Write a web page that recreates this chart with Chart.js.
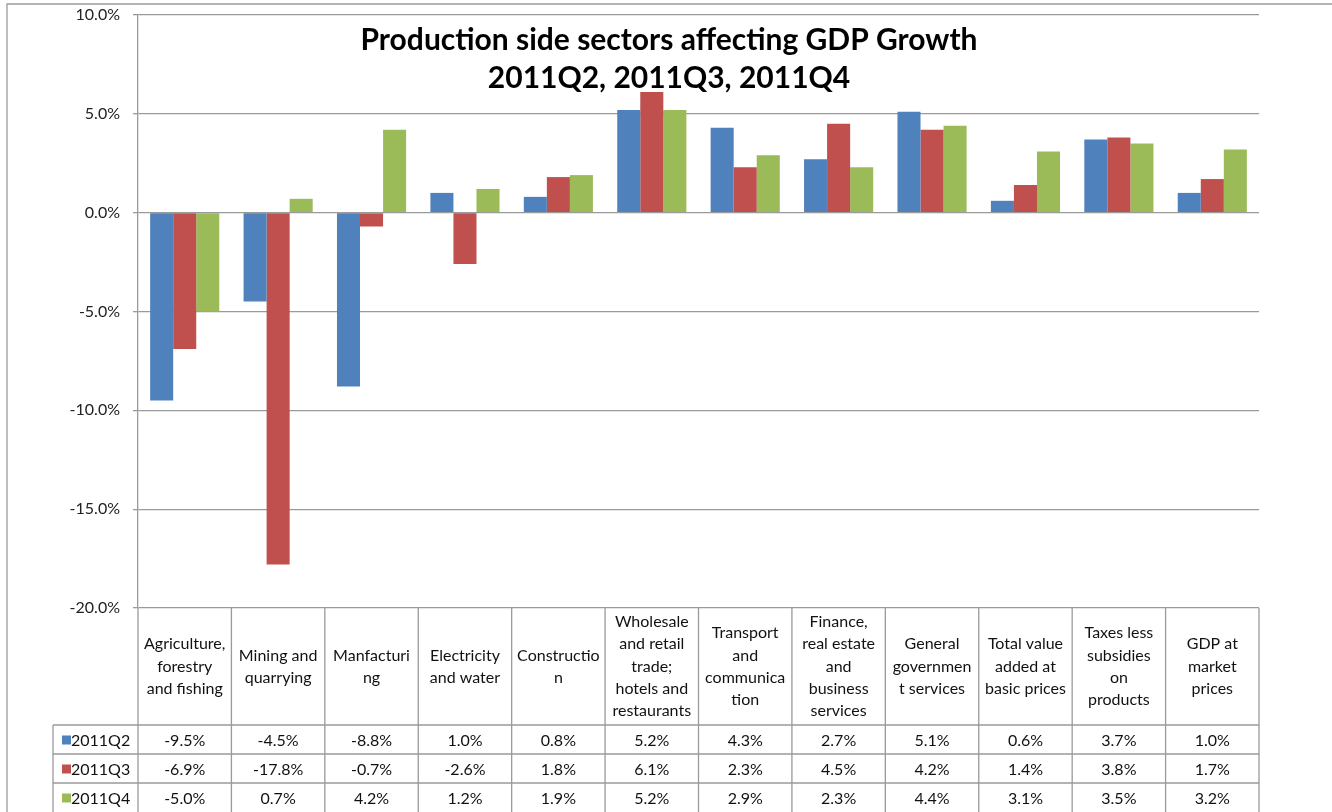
<!DOCTYPE html>
<html>
<head>
<meta charset="utf-8">
<script src="https://cdn.jsdelivr.net/npm/chart.js@4.4.0/dist/chart.umd.min.js"></script>
<style>
  html, body { margin: 0; padding: 0; background: #fff; }
  #wrap { width: 1332px; height: 812px; }
</style>
</head>
<body>
<div id="wrap"><canvas id="gdp-chart"></canvas></div>
<script>
const sectors = [
  ["Agriculture,", "forestry", "and fishing"],
  ["Mining and", "quarrying"],
  ["Manfacturi", "ng"],
  ["Electricity", "and water"],
  ["Constructio", "n"],
  ["Wholesale", "and retail", "trade;", "hotels and", "restaurants"],
  ["Transport", "and", "communica", "tion"],
  ["Finance,", "real estate", "and", "business", "services"],
  ["General", "governmen", "t services"],
  ["Total value", "added at", "basic prices"],
  ["Taxes less", "subsidies", "on", "products"],
  ["GDP at", "market", "prices"],
];
const seriesNames = ["2011Q2", "2011Q3", "2011Q4"];
const q2 = [-9.5, -4.5, -8.8, 1.0, 0.8, 5.2, 4.3, 2.7, 5.1, 0.6, 3.7, 1.0];
const q3 = [-6.9, -17.8, -0.7, -2.6, 1.8, 6.1, 2.3, 4.5, 4.2, 1.4, 3.8, 1.7];
const q4 = [-5.0, 0.7, 4.2, 1.2, 1.9, 5.2, 2.9, 2.3, 4.4, 3.1, 3.5, 3.2];
const titleLines = ["Production side sectors affecting GDP Growth", "2011Q2, 2011Q3, 2011Q4"];

const colors = ["#4f81bd", "#c0504d", "#9bbb59"];
const lineColor = "#9a9a9a";
const fontFamily = "Lato, 'Open Sans', sans-serif";
const fmt = (v) => v.toFixed(1) + "%";

const tablePlugin = {
  id: "excelTable",
  afterDraw(chart) {
    const ctx = chart.ctx;
    const x = chart.scales.x;
    const y = chart.scales.y;
    const left = chart.chartArea.left;
    const right = chart.chartArea.right;
    const top = y.getPixelForValue(-20);
    const H = chart.height;
    const n = sectors.length;
    const w = (right - left) / n;
    const rowTop = top + 117;
    const rowH = 29;
    const legendLeft = 53;

    ctx.save();
    ctx.strokeStyle = lineColor;
    ctx.lineWidth = 1.3;
    // outer chart border
    ctx.beginPath();
    ctx.moveTo(7, H);
    ctx.lineTo(7, 4);
    ctx.lineTo(chart.width, 4);
    ctx.stroke();

    // table grid
    ctx.beginPath();
    ctx.moveTo(left, top);
    ctx.lineTo(left, H);
    for (let i = 1; i <= n; i++) {
      ctx.moveTo(left + i * w, top);
      ctx.lineTo(left + i * w, H);
    }
    for (let r = 0; r < 3; r++) {
      ctx.moveTo(legendLeft, rowTop + r * rowH);
      ctx.lineTo(right, rowTop + r * rowH);
    }
    ctx.moveTo(legendLeft, rowTop);
    ctx.lineTo(legendLeft, H);
    ctx.stroke();

    // header labels
    ctx.fillStyle = "#111";
    ctx.font = "16px " + fontFamily;
    ctx.textAlign = "center";
    ctx.textBaseline = "middle";
    const midY = (top + rowTop) / 2;
    sectors.forEach((lines, i) => {
      const cx = x.getPixelForValue(i);
      const lh = 22.3;
      const start = midY - (lines.length - 1) * lh / 2;
      lines.forEach((t, k) => ctx.fillText(t, cx, start + k * lh));
    });

    // value rows + legend keys
    [q2, q3, q4].forEach((vals, r) => {
      const cy = rowTop + r * rowH + rowH / 2 + 1;
      ctx.fillStyle = colors[r];
      ctx.fillRect(62, cy - 5, 9, 9);
      ctx.fillStyle = "#111";
      ctx.textAlign = "left";
      ctx.fillText(seriesNames[r], 71, cy);
      ctx.textAlign = "center";
      vals.forEach((v, i) => ctx.fillText(fmt(v), x.getPixelForValue(i), cy));
    });

    // title
    ctx.font = "bold 30px " + fontFamily;
    ctx.fillStyle = "#000";
    ctx.fillText(titleLines[0], 669, 40);
    ctx.fillText(titleLines[1], 669, 78);
    ctx.restore();
  },
};

new Chart(document.getElementById("gdp-chart"), {
  type: "bar",
  data: {
    labels: sectors,
    datasets: [
      { label: seriesNames[0], data: q2, backgroundColor: colors[0] },
      { label: seriesNames[1], data: q3, backgroundColor: colors[1] },
      { label: seriesNames[2], data: q4, backgroundColor: colors[2] },
    ],
  },
  options: {
    responsive: true,
    maintainAspectRatio: false,
    animation: false,
    layout: { padding: { top: 15, right: 73, bottom: 204, left: 0 } },
    plugins: {
      legend: { display: false },
      title: { display: false },
      tooltip: { enabled: false },
    },
    datasets: {
      bar: { categoryPercentage: 0.74, barPercentage: 1 },
    },
    scales: {
      x: { display: false },
      y: {
        min: -20,
        max: 10,
        afterFit: (scale) => {
          scale.width = 138;
          scale.paddingTop = 0;
          scale.paddingBottom = 0;
        },
        ticks: {
          stepSize: 5,
          padding: 13,
          color: "#222",
          font: { family: fontFamily, size: 16 },
          callback: (v) => fmt(v),
        },
        grid: { color: lineColor, lineWidth: 1.3, tickLength: 5 },
        border: { color: lineColor, width: 1.3 },
      },
    },
  },
  plugins: [tablePlugin],
});
</script>
</body>
</html>
